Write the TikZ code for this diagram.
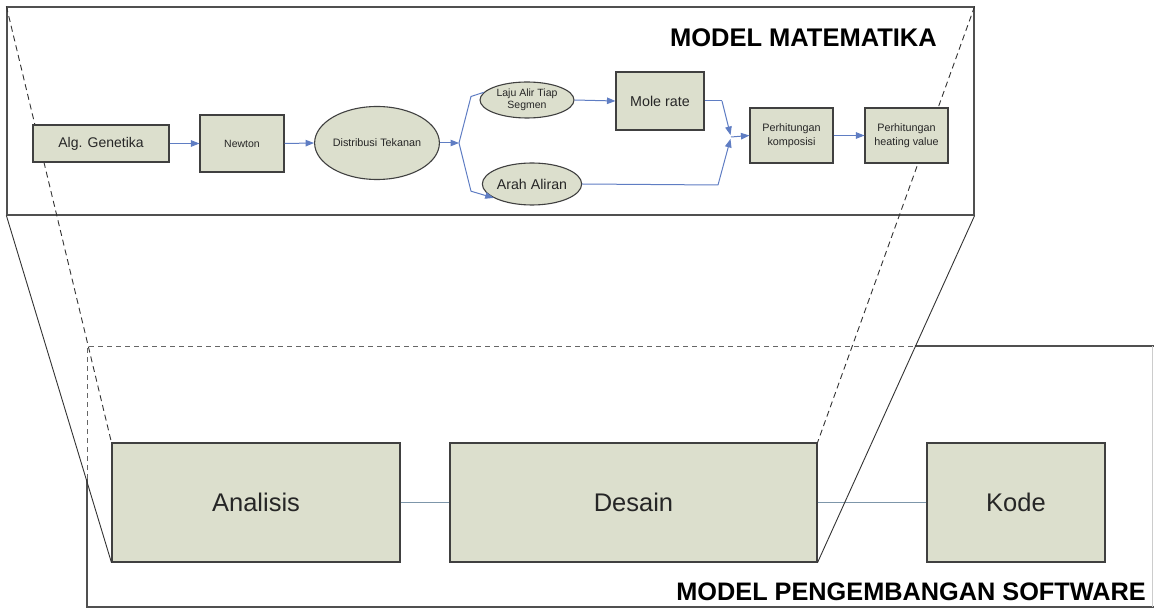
\documentclass[tikz,border=0pt]{standalone}
\usepackage{fontspec}
\setmainfont{Liberation Sans}
\usetikzlibrary{shapes.geometric,arrows.meta}
\definecolor{boxfill}{RGB}{220,223,205}
\definecolor{boxline}{RGB}{64,64,64}
\definecolor{arrblue}{RGB}{95,125,195}
\definecolor{linkblue}{RGB}{125,150,170}
\definecolor{frame}{RGB}{80,80,80}
\tikzset{
  pbox/.style={draw=boxline,fill=boxfill,line width=1.1pt,inner sep=0pt,align=center,text=black!85},
  pell/.style={pbox,ellipse},
  arr/.style={draw=arrblue,line width=1pt,-{Triangle[length=8.5pt,width=6.5pt]}},
  plain/.style={draw=arrblue,line width=1pt},
  proj/.style={draw=black!80,line width=0.9pt},
  projd/.style={proj,dash pattern=on 6pt off 4pt},
  link/.style={draw=linkblue,line width=0.8pt},
}
\begin{document}
\begin{tikzpicture}[x=1pt,y=-1pt]
\useasboundingbox (0,0) rectangle (1154,609);
% top frame
\node[draw=frame,line width=1.2pt,minimum width=967pt,minimum height=208pt,inner sep=0pt] (mm) at (490.5,111) {};
% bottom frame
\draw[draw=black!60,line width=0.9pt,dash pattern=on 5pt off 4pt] (87,479) -- (87,346) -- (914.5,346);
\draw[draw=frame,line width=1.2pt] (914.5,346) -- (1154,346);
\draw[draw=frame,line width=1.2pt] (87,479) -- (87,607) -- (1154,607);
\draw[draw=black!20,line width=0.8pt] (1152,346) -- (1152,607);
% bottom boxes
\node[pbox,minimum width=288pt,minimum height=119pt,font=\fontsize{25.5}{30}\selectfont] (an) at (256,502.5) {Analisis};
\node[pbox,minimum width=367pt,minimum height=119pt,font=\fontsize{25.5}{30}\selectfont] (de) at (633.5,502.5) {Desain};
\node[pbox,minimum width=178pt,minimum height=119pt,font=\fontsize{25.5}{30}\selectfont] (ko) at (1016,502.5) {Kode};
\draw[link] (an.east) -- (de.west);
\draw[link] (de.east) -- (ko.west);
% projection lines
\draw[projd] (mm.north west) -- (an.north west);
\draw[projd] (mm.north east) -- (de.north east);
\draw[proj] (mm.south west) -- (an.south west);
\draw[proj] (mm.south east) -- (de.south east);
% titles
\node[anchor=base east,font=\bfseries\fontsize{25.5}{30}\selectfont,inner sep=0pt] (t1) at (937,47) {MODEL MATEMATIKA};
\node[anchor=base east,font=\bfseries\fontsize{25.3}{30}\selectfont,inner sep=0pt] (t2) at (1146,600) {MODEL PENGEMBANGAN SOFTWARE};
% top flow
\node[pbox,minimum width=136pt,minimum height=37pt,font=\fontsize{14}{16}\selectfont] (alg) at (101,143.5) {Alg. Genetika};
\node[pbox,minimum width=84pt,minimum height=57pt,font=\fontsize{10.5}{12}\selectfont] (nw) at (242,143.5) {Newton};
\node[pell,minimum width=124pt,minimum height=73pt,font=\fontsize{10.8}{12}\selectfont] (dt) at (377,143) {Distribusi Tekanan};
\node[pell,minimum width=94pt,minimum height=36pt,font=\fontsize{10.5}{12.5}\selectfont] (lj) at (527,100) {Laju Alir Tiap\\Segmen};
\node[pell,minimum width=93pt,minimum height=42pt,font=\fontsize{14.2}{16}\selectfont] (ar) at (532,184) {Arah Aliran};
\node[pbox,minimum width=88pt,minimum height=58pt,font=\fontsize{14.3}{16}\selectfont] (mr) at (660,101) {Mole rate};
\node[pbox,minimum width=83pt,minimum height=55pt,font=\fontsize{10.8}{14}\selectfont] (pk) at (791.5,135.5) {Perhitungan\\komposisi};
\node[pbox,minimum width=83pt,minimum height=55pt,font=\fontsize{10.8}{14}\selectfont] (ph) at (906.5,135.5) {Perhitungan\\heating value};
\draw[arr] (alg.east) -- (nw.west);
\draw[arr] (nw.east) -- (dt.west);
\coordinate (br) at (459,143);
\coordinate (bu) at (471,96.5);
\coordinate (bd) at (471,191.2);
\draw[arr] (dt.east) -- (br);
\draw[plain] (br) -- (bu) -- (lj.170);
\draw[arr] (br) -- (bd) -- (ar.200);
\draw[arr] (lj.east) -- (mr.west);
\coordinate (mg) at (731,137);
\coordinate (mu) at (722,101);
\coordinate (md) at (718,185);
\draw[plain] (mr.east) -- (mu);
\draw[arr,shorten >=2pt] (mu) -- (mg);
\draw[plain] (ar.east) -- (md);
\draw[arr,shorten >=2pt] (md) -- (mg);
\draw[arr] (mg) -- (pk.west);
\draw[arr] (pk.east) -- (ph.west);
\end{tikzpicture}
\end{document}
